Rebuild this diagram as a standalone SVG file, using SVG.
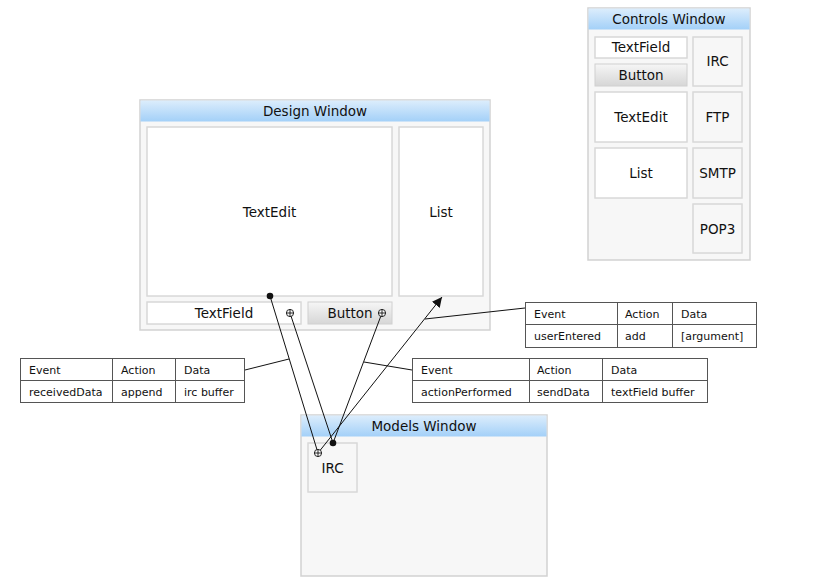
<svg xmlns="http://www.w3.org/2000/svg" width="840" height="586" viewBox="0 0 840 586">
<style>
text{font-family:"DejaVu Sans","Liberation Sans",sans-serif;fill:#111}
.win{fill:#f7f7f7;stroke:#d2d2d2;stroke-width:1.5}
.title{fill:url(#tb);stroke:none}
.tt{font-size:13.5px;text-anchor:middle}
.box{fill:#fff;stroke:#d8d8d8;stroke-width:1.5}
.gbox{fill:#f7f7f7;stroke:#d8d8d8;stroke-width:1.5}
.btn{fill:url(#bg);stroke:#d0d0d0;stroke-width:1}
.lbl{font-size:13.5px;text-anchor:middle}
.tbl{fill:#fff;stroke:#555;stroke-width:1}
.tl{stroke:#555;stroke-width:1}
.tx{font-size:11px}
.ln{stroke:#111;stroke-width:1;fill:none}
.plus{fill:#fff;stroke:#111;stroke-width:0.9}
</style>
<defs>
<linearGradient id="tb" x1="0" y1="0" x2="0" y2="1">
<stop offset="0" stop-color="#dcedfc"/>
<stop offset="1" stop-color="#a3d0f8"/>
</linearGradient>
<linearGradient id="bg" x1="0" y1="0" x2="0" y2="1">
<stop offset="0" stop-color="#f6f6f6"/>
<stop offset="1" stop-color="#d6d6d6"/>
</linearGradient>
<marker id="arr" viewBox="0 0 10 10" refX="10" refY="5" markerWidth="10" markerHeight="10" markerUnits="userSpaceOnUse" orient="auto">
<path d="M0,0 L10,5 L0,10 z" fill="#111"/>
</marker>
<g id="plusSym">
<circle r="3.6" class="plus"/>
<line x1="-3.6" y1="0" x2="3.6" y2="0" stroke="#111" stroke-width="0.9"/>
<line x1="0" y1="-3.6" x2="0" y2="3.6" stroke="#111" stroke-width="0.9"/>
</g>
</defs>
<rect width="840" height="586" fill="#fff"/>

<g id="controls-window">
<rect class="win" x="588" y="8" width="162" height="252"/>
<rect class="title" x="588.5" y="8.5" width="161" height="21"/>
<text class="tt" x="669" y="24">Controls Window</text>
<rect class="box" x="595" y="37" width="92" height="21"/>
<text class="lbl" x="641" y="52">TextField</text>
<rect class="btn" x="595" y="64" width="92" height="22"/>
<text class="lbl" x="641" y="80">Button</text>
<rect class="gbox" x="693" y="37" width="49" height="49"/>
<text class="lbl" x="717.5" y="66">IRC</text>
<rect class="box" x="595" y="92" width="92" height="50"/>
<text class="lbl" x="641" y="122">TextEdit</text>
<rect class="gbox" x="693" y="92" width="49" height="50"/>
<text class="lbl" x="717.5" y="122">FTP</text>
<rect class="box" x="595" y="148" width="92" height="50"/>
<text class="lbl" x="641" y="178">List</text>
<rect class="gbox" x="693" y="148" width="49" height="50"/>
<text class="lbl" x="717.5" y="178">SMTP</text>
<rect class="gbox" x="693" y="204" width="49" height="49"/>
<text class="lbl" x="717.5" y="234">POP3</text>
</g>

<g id="design-window">
<rect class="win" x="140" y="100" width="350" height="230"/>
<rect class="title" x="140.5" y="100.5" width="349" height="21"/>
<text class="tt" x="315" y="116">Design Window</text>
<rect class="box" x="147" y="127" width="245" height="169"/>
<text class="lbl" x="269.5" y="217">TextEdit</text>
<rect class="box" x="399" y="127" width="84" height="169"/>
<text class="lbl" x="441" y="217">List</text>
<rect class="box" x="147" y="302" width="154" height="22"/>
<text class="lbl" x="224" y="318">TextField</text>
<rect class="btn" x="308" y="302" width="84" height="22"/>
<text class="lbl" x="350" y="318">Button</text>
</g>

<g id="models-window">
<rect class="win" x="301" y="415" width="246" height="161"/>
<rect class="title" x="301.5" y="415.5" width="245" height="21"/>
<text class="tt" x="424" y="431">Models Window</text>
<rect class="gbox" x="308" y="443" width="49" height="49"/>
<text class="lbl" x="332.5" y="473">IRC</text>
</g>

<g id="table-received">
<rect class="tbl" x="20.5" y="358.5" width="224" height="44"/>
<line class="tl" x1="20.5" y1="380.5" x2="244.5" y2="380.5"/>
<line class="tl" x1="112.5" y1="358.5" x2="112.5" y2="402.5"/>
<line class="tl" x1="175.5" y1="358.5" x2="175.5" y2="402.5"/>
<text class="tx" x="29" y="373.5">Event</text>
<text class="tx" x="121" y="373.5">Action</text>
<text class="tx" x="184" y="373.5">Data</text>
<text class="tx" x="29" y="395.5">receivedData</text>
<text class="tx" x="121" y="395.5">append</text>
<text class="tx" x="184" y="395.5">irc buffer</text>
</g>

<g id="table-action">
<rect class="tbl" x="412.5" y="358.5" width="295" height="44"/>
<line class="tl" x1="412.5" y1="380.5" x2="707.5" y2="380.5"/>
<line class="tl" x1="529.5" y1="358.5" x2="529.5" y2="402.5"/>
<line class="tl" x1="602.5" y1="358.5" x2="602.5" y2="402.5"/>
<text class="tx" x="421" y="373.5">Event</text>
<text class="tx" x="537" y="373.5">Action</text>
<text class="tx" x="611" y="373.5">Data</text>
<text class="tx" x="421" y="395.5">actionPerformed</text>
<text class="tx" x="537" y="395.5">sendData</text>
<text class="tx" x="611" y="395.5">textField buffer</text>
</g>

<g id="table-user">
<rect class="tbl" x="525.5" y="302.5" width="231" height="45"/>
<line class="tl" x1="525.5" y1="324.5" x2="756.5" y2="324.5"/>
<line class="tl" x1="617.5" y1="302.5" x2="617.5" y2="347.5"/>
<line class="tl" x1="672.5" y1="302.5" x2="672.5" y2="347.5"/>
<text class="tx" x="534" y="317.5">Event</text>
<text class="tx" x="625" y="317.5">Action</text>
<text class="tx" x="681" y="317.5">Data</text>
<text class="tx" x="534" y="339.5">userEntered</text>
<text class="tx" x="625" y="339.5">add</text>
<text class="tx" x="681" y="339.5">[argument]</text>
</g>

<g id="connectors">
<line class="ln" x1="270" y1="296" x2="318" y2="453"/>
<line class="ln" x1="290" y1="313" x2="333" y2="443"/>
<line class="ln" x1="382" y1="313" x2="333" y2="443"/>
<line class="ln" x1="318" y1="453" x2="442" y2="297" marker-end="url(#arr)"/>
<line class="ln" x1="245" y1="370" x2="289" y2="359"/>
<line class="ln" x1="364" y1="362" x2="412" y2="370"/>
<line class="ln" x1="425" y1="319" x2="525" y2="308"/>
<circle cx="270" cy="296" r="3.3" fill="#111"/>
<circle cx="333" cy="443" r="3.3" fill="#111"/>
<use href="#plusSym" x="290" y="313"/>
<use href="#plusSym" x="382" y="313"/>
<use href="#plusSym" x="318" y="453"/>
</g>
</svg>
